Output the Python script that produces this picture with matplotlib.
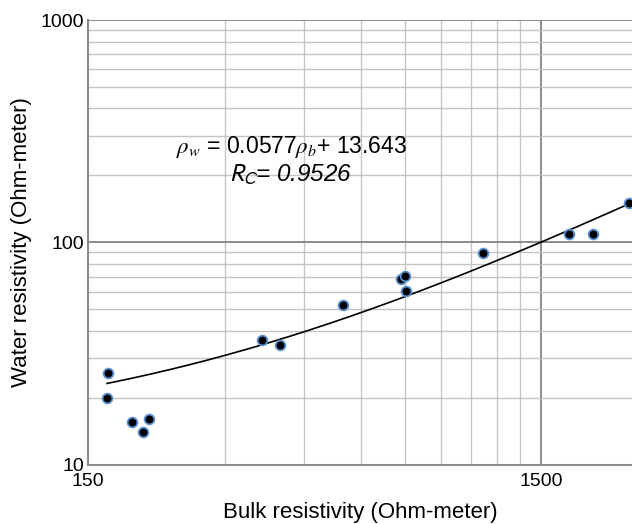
import numpy as np
import matplotlib
matplotlib.use("Agg")
import matplotlib.pyplot as plt
from matplotlib.ticker import FixedLocator, NullFormatter

plt.rcParams['font.family'] = ['Liberation Sans', 'DejaVu Sans']

# bulk vs water resistivity readings (Ohm-meter)
bulk = [166, 165, 187, 198, 204, 363, 398, 549, 737, 752, 753, 1114, 1724, 1948, 2339]
water = [25.9, 20.0, 15.6, 14.0, 16.0, 36.2, 34.4, 52.3, 68.5, 70.4, 60.3, 89.7, 108.9, 108.9, 150.6]

# linear fit from the paper
slope = 0.0577
intercept = 13.643

x_ticks = [150, 1500]
x_minor = [300, 450, 600, 750, 900, 1050, 1200, 1350]
y_ticks = [10, 100, 1000]

fig = plt.figure(figsize=(6.32, 5.24), dpi=100)
ax = fig.add_axes([0.1397, 0.1135, 0.8603, 0.8483])

ax.set_xscale('log')
ax.set_yscale('log')
ax.set_xlim(150, 2380)
ax.set_ylim(10, 1000)

ax.xaxis.set_major_locator(FixedLocator(x_ticks))
ax.xaxis.set_minor_locator(FixedLocator(x_minor))
ax.set_xticklabels([str(t) for t in x_ticks])
ax.xaxis.set_minor_formatter(NullFormatter())
ax.yaxis.set_major_locator(FixedLocator(y_ticks))
ax.set_yticklabels([str(t) for t in y_ticks])
ax.yaxis.set_minor_formatter(NullFormatter())

ax.grid(True, which='major', color='#8c8c8c', linewidth=1.4)
ax.grid(True, which='minor', color='#c4c4c4', linewidth=1.0)
ax.set_axisbelow(True)

ax.tick_params(which='both', length=0, labelsize=14, pad=3)
ax.tick_params(axis='x', pad=6)
for s in ['top', 'right']:
    ax.spines[s].set_visible(False)
for s in ['left', 'bottom']:
    ax.spines[s].set_color('#8c8c8c')
    ax.spines[s].set_linewidth(1.5)

xfit = np.linspace(min(bulk), max(bulk), 200)
ax.plot(xfit, slope * xfit + intercept, color='black', linewidth=1.2, zorder=3)
ax.plot(bulk, water, 'o', markersize=7, markerfacecolor='black',
        markeredgecolor='#5590d0', markeredgewidth=1.3, zorder=4, clip_on=False)

ax.text(0.374, 0.715, r'$\rho_w$ = 0.0577$\rho_b$+ 13.643', transform=ax.transAxes,
        ha='center', va='center', fontsize=16.5, math_fontfamily='stix')
ax.text(0.373, 0.651, r'$R_C$= 0.9526', transform=ax.transAxes, style='italic',
        ha='center', va='center', fontsize=17.5, math_fontfamily='stixsans')

ax.set_xlabel('Bulk resistivity (Ohm-meter)', fontsize=16, labelpad=9)
ax.set_ylabel('Water resistivity (Ohm-meter)', fontsize=16, labelpad=6)

fig.savefig('out.png', dpi=100)
